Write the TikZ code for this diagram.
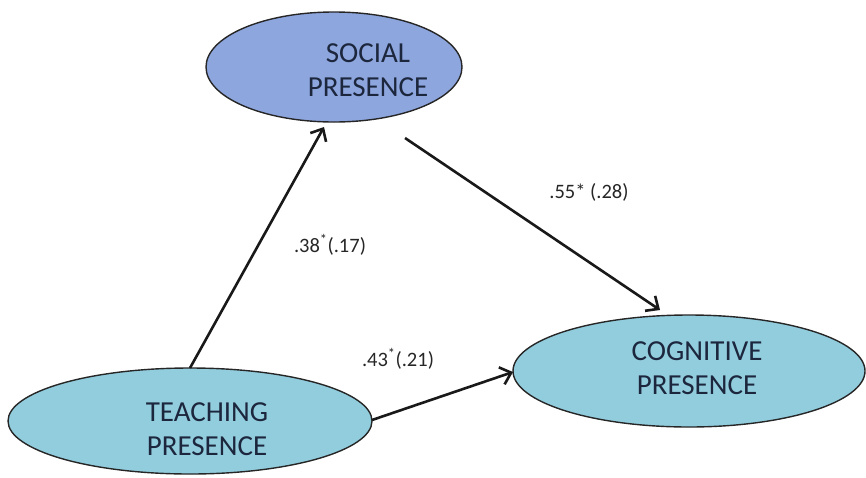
\documentclass[tikz,border=0pt]{standalone}
\usepackage{fontspec}
\setmainfont{Carlito}
\usetikzlibrary{shapes.geometric,arrows.meta}
\definecolor{socfill}{RGB}{141,166,222}
\definecolor{lbfill}{RGB}{146,205,222}
\definecolor{txt}{RGB}{28,38,60}
\begin{document}
\begin{tikzpicture}[x=1pt,y=-1pt,
  ell/.style={ellipse,draw=black!85,line width=1.4pt,inner sep=0pt},
  etxt/.style={text=txt,font=\fontsize{29}{34.5}\selectfont,align=center,inner sep=0pt},
  conn/.style={-{Straight Barb[length=10pt,width=18pt,line width=2.6pt]},line width=2.6pt,black!90},
  lbl/.style={font=\fontsize{20.5}{22}\selectfont,text=black!85}]
\useasboundingbox (0,0) rectangle (866,477);
\node[ell,fill=socfill,minimum width=256pt,minimum height=110pt] (soc) at (334,67) {};
\node[ell,fill=lbfill,minimum width=364pt,minimum height=106pt] (tea) at (190,421) {};
\node[ell,fill=lbfill,minimum width=352pt,minimum height=112pt] (cog) at (689,371) {};
\node[etxt] (soct) at (368,70) {SOCIAL\\PRESENCE};
\node[etxt] (teat) at (207,429) {TEACHING\\PRESENCE};
\node[etxt] (cogt) at (697,368) {COGNITIVE\\PRESENCE};
\coordinate (t1) at (190,368);
\coordinate (s1) at (324,127);
\coordinate (s2) at (405,138);
\coordinate (c1) at (660,310);
\coordinate (t2) at (372,420);
\coordinate (c2) at (513,372);
\draw[conn] (t1) -- (s1);
\draw[conn] (s2) -- (c1);
\draw[conn] (t2) -- (c2);
\node[lbl] (l1) at (330,245) {.38\textsuperscript{*}(.17)};
\node[lbl] (l2) at (589,192) {.55* (.28)};
\node[lbl] (l3) at (398,359) {.43\textsuperscript{*}(.21)};
\end{tikzpicture}
\end{document}
